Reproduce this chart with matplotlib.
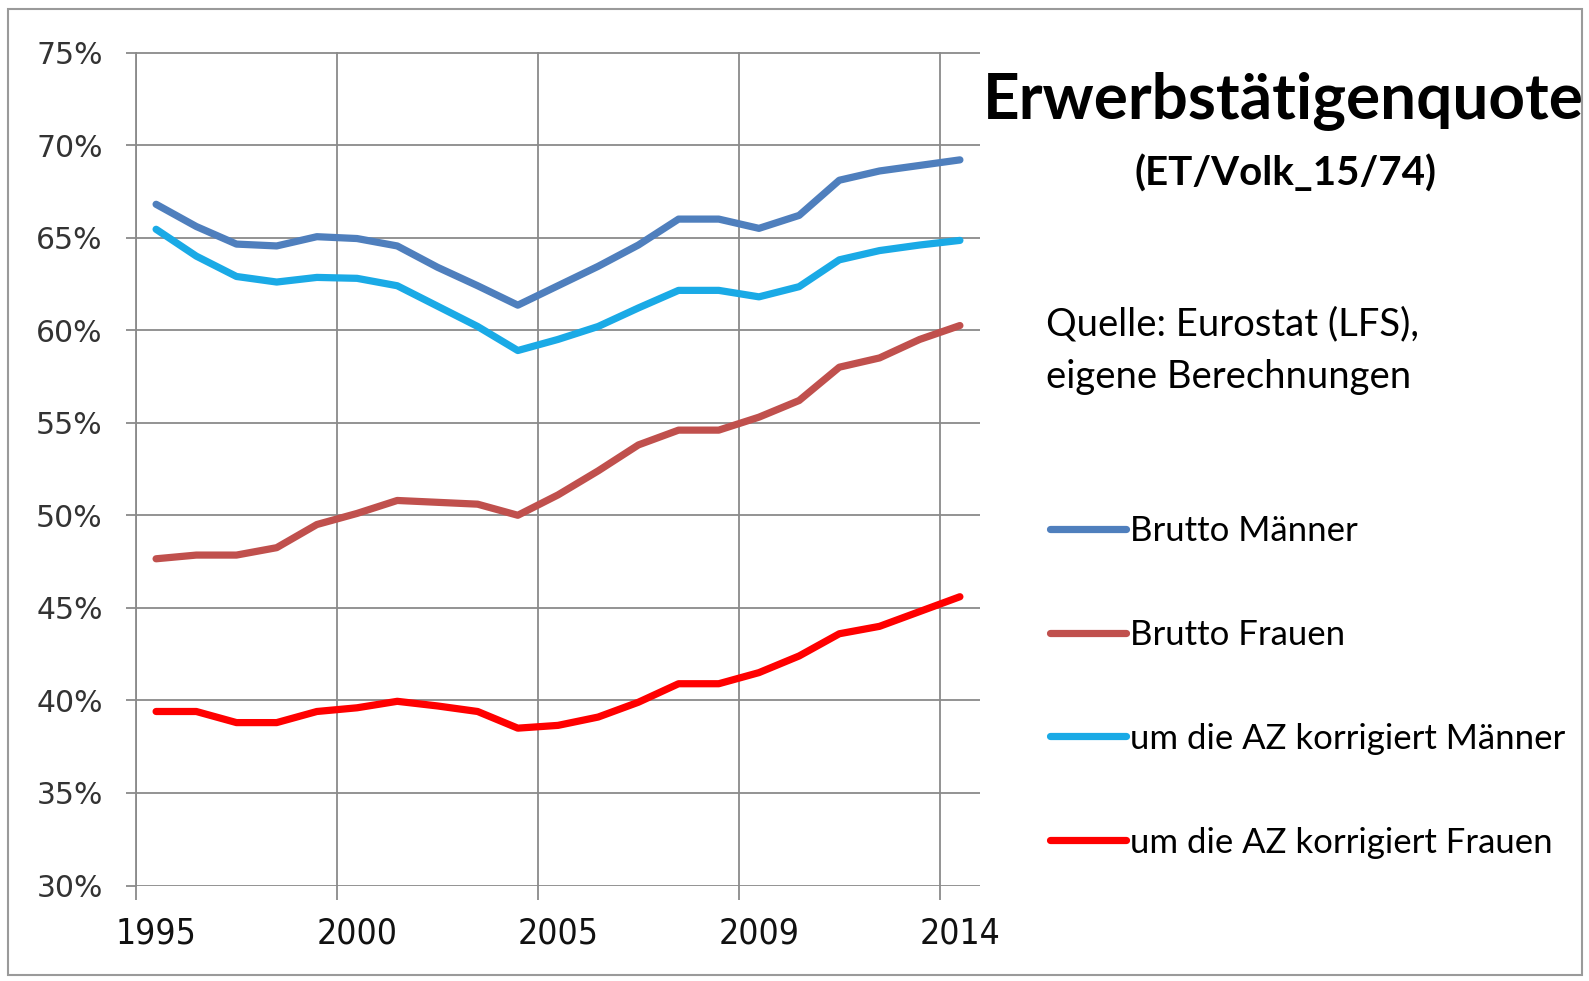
import numpy as np
import matplotlib.pyplot as plt
from matplotlib.patches import Rectangle
from matplotlib.ticker import FixedLocator, FixedFormatter

# 21 Kategorien (Excel-Kategorieachse), beschriftet wird jede fuenfte
tick_labels = ['1995', '2000', '2005', '2009', '2014']
label_pos = [0, 5, 10, 15, 20]

brutto_m = [66.8, 65.6, 64.65, 64.55, 65.05, 64.95, 64.55, 63.4, 62.4, 61.35,
            62.4, 63.45, 64.6, 66.0, 66.0, 65.5, 66.2, 68.1, 68.6, 68.9, 69.2]
brutto_f = [47.65, 47.85, 47.85, 48.25, 49.5, 50.1, 50.8, 50.7, 50.6, 50.0,
            51.1, 52.4, 53.8, 54.6, 54.6, 55.3, 56.2, 58.0, 58.5, 59.5, 60.25]
korr_m = [65.45, 64.0, 62.9, 62.6, 62.85, 62.8, 62.4, 61.3, 60.2, 58.9,
          59.5, 60.2, 61.2, 62.15, 62.15, 61.8, 62.35, 63.8, 64.3, 64.6, 64.85]
korr_f = [39.4, 39.4, 38.8, 38.8, 39.4, 39.6, 39.95, 39.7, 39.4, 38.5,
          38.65, 39.1, 39.9, 40.9, 40.9, 41.5, 42.4, 43.6, 44.0, 44.8, 45.6]

series = [
    ('Brutto Männer', brutto_m, '#4f7fbd'),
    ('Brutto Frauen', brutto_f, '#c0504d'),
    ('um die AZ korrigiert Männer', korr_m, '#1aaae6'),
    ('um die AZ korrigiert Frauen', korr_f, '#ff0000'),
]

grid_col = '#8a8a8a'

fig = plt.figure(figsize=(15.89, 9.81), dpi=100)
ax = fig.add_axes([136 / 1589, 1 - 885.5 / 981, 844 / 1589, 833 / 981])

x = np.arange(len(brutto_m))
handles = []
for name, vals, col in series:
    ln, = ax.plot(x, vals, color=col, lw=5.2, solid_joinstyle='round',
                  solid_capstyle='round', label=name, zorder=3)
    handles.append(ln)

ax.set_xlim(-0.5, 20.5)
ax.set_ylim(30, 75)

# y-Achse
ax.set_yticks(np.arange(30, 76, 5))
ax.set_yticklabels([f'{v}%' for v in range(30, 76, 5)], fontsize=21.5,
                   family='DejaVu Sans', color='#333333')
ax.tick_params(axis='y', length=7, width=1.3, color=grid_col, pad=17)
ax.yaxis.grid(True, color=grid_col, lw=1.3)

# x-Achse: Striche an den Kategoriegrenzen, Beschriftung in der Mitte
ax.xaxis.set_major_locator(FixedLocator([-0.5, 4.5, 9.5, 14.5, 19.5]))
ax.xaxis.set_major_formatter(FixedFormatter([''] * 5))
ax.xaxis.set_minor_locator(FixedLocator(label_pos))
ax.xaxis.set_minor_formatter(FixedFormatter(tick_labels))
ax.tick_params(axis='x', which='major', length=10, width=1.3, color=grid_col)
ax.tick_params(axis='x', which='minor', length=0, pad=22, labelsize=25.5)
for t in ax.xaxis.get_minorticklabels():
    t.set_family('DejaVu Sans')
    t.set_stretch('condensed')
    t.set_color('#111111')
ax.xaxis.grid(True, which='major', color=grid_col, lw=1.3)
ax.set_axisbelow(True)

for s in ['top', 'right', 'bottom']:
    ax.spines[s].set_visible(False)
ax.spines['left'].set_color(grid_col)
ax.spines['left'].set_linewidth(1.3)

# Texte rechts
fig.text(1283 / 1589, 1 - 101 / 981, 'Erwerbstätigenquote', family='Lato',
         fontweight='bold', fontsize=46, ha='center', va='center')
fig.text(1285 / 1589, 1 - 174 / 981, '(ET/Volk_15/74)', family='Lato',
         fontweight='bold', fontsize=29, ha='center', va='center')
fig.text(1046 / 1589, 1 - 324 / 981, 'Quelle: Eurostat (LFS),', family='Lato',
         fontsize=27.5, ha='left', va='center')
fig.text(1046 / 1589, 1 - 377 / 981, 'eigene Berechnungen', family='Lato',
         fontsize=27.5, ha='left', va='center')

leg = fig.legend(handles=handles, loc='upper left',
                 bbox_to_anchor=(1036 / 1589, 1 - 501 / 981),
                 frameon=False, prop={'family': 'Lato', 'size': 25},
                 handlelength=2.2, handletextpad=0.1, labelspacing=2.07,
                 borderaxespad=0)

fig.patches.append(Rectangle((8 / 1589, 6 / 981), 1574 / 1589, 966 / 981,
                             transform=fig.transFigure, fill=False,
                             edgecolor='#9a9a9a', lw=1.5))

fig.savefig('out.png', dpi=100, facecolor='white')
